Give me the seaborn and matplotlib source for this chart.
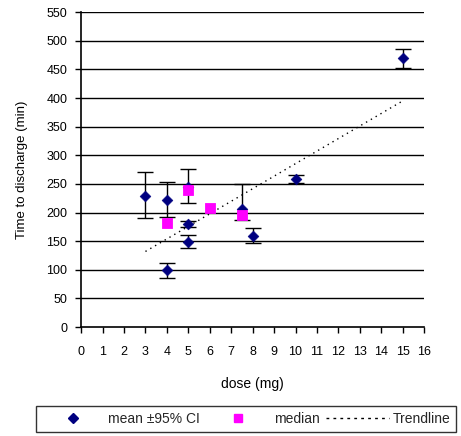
import numpy as np
import pandas as pd
import matplotlib
matplotlib.use("Agg")
import matplotlib.pyplot as plt
import seaborn as sns
from matplotlib.lines import Line2D

sns.set_theme(style="white")
plt.rcParams['font.family'] = ['Liberation Sans', 'DejaVu Sans']

# mean +/- 95% CI
mean_dose = [3, 4, 4, 5, 5, 5, 7.5, 8, 10, 15]
mean_time = [229, 222, 100, 245, 180, 149, 206, 159, 258, 470]
ci_low = [190, 193, 85, 216, 175, 138, 187, 146, 251, 453]
ci_high = [270, 253, 112, 276, 185, 160, 250, 173, 266, 485]

# medians
median_dose = [4, 5, 6, 7.5]
median_time = [181, 239, 208, 196]

# trendline endpoints
trend_dose = [3, 15]
trend_time = [132, 395]

x_ticks = list(range(0, 17))
y_ticks = list(range(0, 551, 50))

df_mean = pd.DataFrame({"dose": mean_dose, "time": mean_time})
df_med = pd.DataFrame({"dose": median_dose, "time": median_time})

fig = plt.figure(figsize=(4.61, 4.36), dpi=100)
ax = fig.add_axes([0.176, 0.25, 0.744, 0.722])

for y in y_ticks[1:]:
    ax.axhline(y, color='black', lw=1.0, zorder=0)

ax.plot(trend_dose, trend_time, color='black', lw=1.0, ls=(0, (1, 3)), zorder=1)

yerr = [np.array(mean_time) - np.array(ci_low), np.array(ci_high) - np.array(mean_time)]
ax.errorbar(mean_dose, mean_time, yerr=yerr, fmt='none', ecolor='black',
            elinewidth=1.0, capsize=6, capthick=1.0, zorder=2)
sns.scatterplot(data=df_mean, x="dose", y="time", ax=ax, marker='D', s=30,
                color='#000080', edgecolor='#000080', zorder=3, legend=False)
sns.scatterplot(data=df_med, x="dose", y="time", ax=ax, marker='s', s=55,
                color='#ff00ff', edgecolor='#ff00ff', zorder=4, legend=False)

ax.set_xlim(0, 16)
ax.set_ylim(0, 550)
ax.set_xticks(x_ticks)
ax.set_yticks(y_ticks)
ax.tick_params(axis='both', labelsize=9, colors='black', length=4, width=1,
               direction='out', bottom=True, left=True)
ax.tick_params(axis='x', pad=10)
ax.tick_params(axis='y', pad=6)
for s in ['top', 'right']:
    ax.spines[s].set_visible(False)
for s in ['left', 'bottom']:
    ax.spines[s].set_color('black')
    ax.spines[s].set_linewidth(1.2)

ax.set_xlabel('dose (mg)', fontsize=10, color='black', labelpad=13)
ax.set_ylabel('Time to discharge (min)', fontsize=9.5, color='black', labelpad=13)

handles = [
    Line2D([], [], marker='D', color='#000080', ls='none', markersize=5),
    Line2D([], [], marker='s', color='#ff00ff', ls='none', markersize=6),
    Line2D([], [], color='black', lw=1.0, ls=(0, (2, 3))),
]
leg = fig.legend(handles, ['mean ±95% CI', 'median', 'Trendline'],
                 loc='center', bbox_to_anchor=(0.534, 0.039), ncol=3,
                 fontsize=10, frameon=True, fancybox=False, edgecolor='black',
                 handlelength=4.5, handletextpad=0.3, columnspacing=0.5,
                 borderpad=0.4, borderaxespad=0)
leg.get_frame().set_linewidth(1.0)

fig.savefig('out.png', dpi=100)
